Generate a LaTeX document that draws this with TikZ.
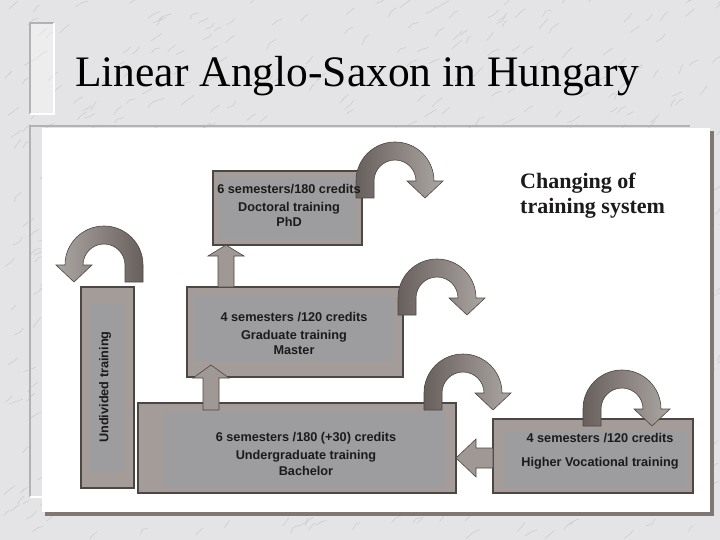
\documentclass[tikz,border=0pt]{standalone}
\usepackage{fontspec}
\setmainfont{Liberation Serif}
\setsansfont{Liberation Sans}
\usetikzlibrary{calc}
\definecolor{marble}{RGB}{228,228,230}
\definecolor{veingray}{RGB}{150,150,156}
\definecolor{framegray}{RGB}{178,178,180}
\definecolor{panelshadow}{RGB}{128,118,114}
\definecolor{boxedge}{RGB}{78,70,68}
\definecolor{boxouter}{RGB}{164,156,152}
\definecolor{boxinner}{RGB}{157,157,159}
\definecolor{turndark}{RGB}{104,96,92}
\definecolor{turnlight}{RGB}{172,166,163}
\definecolor{blockgray}{RGB}{160,152,148}
\definecolor{textdark}{RGB}{28,26,26}
\tikzset{vein/.style={draw=veingray, line width=0.4pt, opacity=0.4},
         box/.style n args={4}{draw=boxedge, line width=1.2pt, fill=boxouter,
           inner sep=0pt, outer sep=0pt,
           path picture={\fill[boxinner]
             ($(path picture bounding box.north west)+(#1,#2)$) rectangle
             ($(path picture bounding box.south east)+(-#3,-#4)$);}},
         boxtext/.style={font=\sffamily\bfseries\fontsize{12.7}{15}\selectfont,
           text=textdark, align=center, inner sep=0pt},
         turn face/.style={draw=boxedge, line width=0.6pt,
           left color=turndark, right color=turnlight},
         uturn/.pic={
           \path[turn face] (-39,17) -- (-39,0)
             arc[start angle=180, end angle=360, radius=39]
             -- (48,0) -- (30,17) -- (12,0) -- (21,0)
             arc[start angle=360, end angle=180, radius=21] -- (-21,17) -- cycle;},
         blockarrow/.style n args={3}{draw=boxedge, line width=0.6pt, fill=blockgray,
           to path={($(\tikztostart)!#1!90:(\tikztotarget)$)
             -- ($(\tikztotarget)!#3!(\tikztostart)!#1!90:(\tikztotarget)$)
             -- ($(\tikztotarget)!#3!(\tikztostart)!#2!90:(\tikztotarget)$)
             -- (\tikztotarget)
             -- ($(\tikztotarget)!#3!(\tikztostart)!#2!-90:(\tikztotarget)$)
             -- ($(\tikztotarget)!#3!(\tikztostart)!#1!-90:(\tikztotarget)$)
             -- ($(\tikztostart)!#1!-90:(\tikztotarget)$) -- cycle}}}
\begin{document}
\begin{tikzpicture}[x=1pt, y=-1pt]
\useasboundingbox (0,0) rectangle (720,540);
\fill[marble] (0,0) rectangle (720,540);
\pgfmathsetseed{12}
\foreach \k in {1,...,700}{
  \pgfmathsetmacro{\vx}{720*rnd}
  \pgfmathsetmacro{\vy}{540*rnd}
  \draw[vein] (\vx,\vy) -- ++(2+5*rnd,-2-4*rnd) -- ++(2+5*rnd,-1-4*rnd);
}
% title
\fill[white, opacity=0.35] (30,23) rectangle (54,114);
\draw[framegray, line width=1.5pt] (30,114) -- (30,23) -- (54,23);
\draw[white, line width=1.5pt] (54,23) -- (54,114) -- (30,114);
\node[anchor=base west, font=\fontsize{43.5}{50}\selectfont, inner sep=0pt]
  (title) at (75,87) {Linear Anglo-Saxon in Hungary};
% panel
\draw[framegray, line width=2pt] (30,497) -- (30,126) -- (690,126);
\draw[white, line width=2pt] (30,497) -- (48,497);
\fill[panelshadow] (45,131) rectangle (714,516);
\fill[white] (42,128) rectangle (710,512);
\node[anchor=north west, align=left, font=\bfseries\fontsize{22}{25}\selectfont,
  inner sep=0pt, text=textdark] (caption) at (520,172.5) {Changing of\\training system};
% boxes
\node[box={6}{6}{6}{6}, minimum width=149pt, minimum height=74pt] (doc) at (287.5,208) {};
\node[box={6}{8}{10}{15}, minimum width=216pt, minimum height=90pt] (master) at (295,332) {};
\node[box={25}{9}{10}{5}, minimum width=318pt, minimum height=90pt] (bach) at (297,448) {};
\node[box={11}{13}{6}{5}, minimum width=200pt, minimum height=74pt] (voc) at (593,456) {};
\node[box={8}{16}{10}{16}, minimum width=53pt, minimum height=201pt] (undiv) at (107.5,387.5) {};
\pic at (395,181) {uturn};
\pic at (437,298) {uturn};
\pic at (463,393) {uturn};
\pic at (622,409) {uturn};
\pic[xscale=-1, turn face/.append style={left color=turnlight, right color=turndark}]
  at (104,265) {uturn};
\coordinate (up1) at (211,0);
\coordinate (up2) at (226,0);
\coordinate (lft) at (0,458);
\draw[blockarrow={8pt}{18pt}{13pt}] ($(bach.north -| up1)+(0,7)$)
  to ($(master.south -| up1)+(0,-12)$);
\draw[blockarrow={8pt}{18pt}{11pt}] (master.north -| up2) to (doc.south -| up2);
\draw[blockarrow={10pt}{19pt}{20pt}] (voc.west |- lft) to (bach.east |- lft);
\node[boxtext] (doctxt) at (289,205.5) {6 semesters/180 credits\\[3pt] Doctoral training\\ PhD};
\node[boxtext] (mastertxt) at (294,333.5) {4 semesters /120 credits\\[3pt] Graduate training\\ Master};
\node[boxtext] (bachtxt) at (306,454) {6 semesters /180 (+30) credits\\[3pt] Undergraduate training\\[1pt] Bachelor};
\node[boxtext] (voctxt) at (600,451) {4 semesters /120 credits\\[9pt] Higher Vocational training};
\node[boxtext, rotate=90] (undivtxt) at (105,387) {Undivided training};
\end{tikzpicture}
\end{document}
